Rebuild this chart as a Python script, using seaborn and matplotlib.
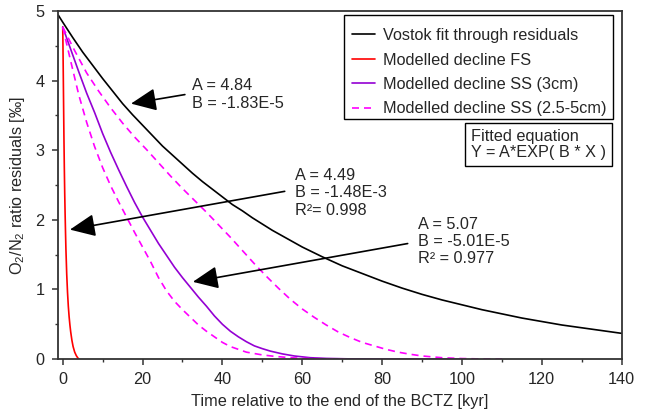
"""
O2/N2 ratio residuals: Vostok fit vs modelled declines
"""

import matplotlib
matplotlib.use("Agg")
import matplotlib.pyplot as plt
from matplotlib.patches import Rectangle
from matplotlib.ticker import MultipleLocator
import seaborn as sns

# ---- data ----
vostok_x = [-1.1, 0, 2.5, 5, 7.5, 10, 12.5, 15, 17.5, 20, 22.5, 25, 27.5, 30, 32.5, 35, 37.5,
            40, 42.5, 45, 47.5, 50, 52.5, 55, 57.5, 60, 65, 70, 75, 80, 85, 90, 95, 100, 105,
            110, 115, 120, 125, 130, 135, 140]
vostok_y = [4.94, 4.84, 4.62, 4.41, 4.22, 4.03, 3.85, 3.67, 3.51, 3.36, 3.21, 3.06, 2.93, 2.80,
            2.67, 2.55, 2.44, 2.33, 2.22, 2.13, 2.03, 1.94, 1.85, 1.77, 1.69, 1.61, 1.47, 1.34,
            1.23, 1.12, 1.02, 0.93, 0.85, 0.78, 0.71, 0.65, 0.59, 0.54, 0.49, 0.45, 0.41, 0.37]

fs_x = [0, 0.05, 0.1, 0.2, 0.3, 0.4, 0.5, 0.6, 0.7, 0.8, 1.0, 1.2, 1.4, 1.6, 1.8, 2.0, 2.3,
        2.6, 3.0, 3.4, 3.8, 4.1]
fs_y = [4.77, 4.55, 4.3, 3.75, 3.2, 2.75, 2.38, 2.08, 1.82, 1.58, 1.22, 0.96, 0.76, 0.61, 0.49,
        0.39, 0.27, 0.18, 0.10, 0.05, 0.015, 0.0]

ss3_x = [0, 2, 4, 6, 8, 10, 12, 14, 16, 18, 20, 22, 24, 26, 28, 30, 32, 34, 36, 38, 40, 42,
         44, 46, 48, 50, 52, 55, 58, 62, 66, 72, 80, 100]
ss3_y = [4.77, 4.45, 4.13, 3.82, 3.54, 3.24, 2.97, 2.72, 2.48, 2.25, 2.04, 1.85, 1.66, 1.49,
         1.32, 1.17, 1.03, 0.89, 0.76, 0.62, 0.50, 0.40, 0.32, 0.25, 0.19, 0.15, 0.115, 0.075,
         0.045, 0.02, 0.01, 0.003, 0.0, 0.0]

ss_lo_x = [0, 2, 4, 6, 8, 10, 12, 14, 16, 18, 20, 22, 24, 26, 28, 30, 32, 34, 36, 38, 40, 42,
           44, 46, 48, 50, 53, 56, 60, 66, 72]
ss_lo_y = [4.77, 4.28, 3.80, 3.40, 3.05, 2.75, 2.49, 2.26, 2.04, 1.82, 1.61, 1.40, 1.17, 0.98,
           0.83, 0.71, 0.60, 0.49, 0.40, 0.32, 0.24, 0.18, 0.14, 0.10, 0.08, 0.06, 0.04, 0.025,
           0.01, 0.003, 0.0]

ss_hi_x = [0, 3, 6, 9, 12, 15, 18, 21, 24, 27, 30, 33, 36, 39, 42, 45, 48, 51, 54, 57, 60, 63,
           66, 69, 72, 75, 78, 81, 84, 87, 90, 95, 100, 105, 110]
ss_hi_y = [4.77, 4.43, 4.11, 3.85, 3.61, 3.39, 3.19, 3.01, 2.82, 2.63, 2.45, 2.28, 2.11, 1.93,
           1.75, 1.56, 1.37, 1.19, 1.02, 0.86, 0.72, 0.60, 0.49, 0.39, 0.31, 0.24, 0.19, 0.14,
           0.10, 0.07, 0.045, 0.02, 0.008, 0.002, 0.0]

labels = ["Vostok fit through residuals", "Modelled decline FS",
          "Modelled decline SS (3cm)", "Modelled decline SS (2.5-5cm)"]
fit_texts = ["A = 4.84\nB = -1.83E-5",
             "A = 4.49\nB = -1.48E-3\nR\u00b2= 0.998",
             "A = 5.07\nB = -5.01E-5\nR\u00b2 = 0.977"]

sns.set_style("ticks")
plt.rcParams["font.family"] = ["Liberation Sans", "DejaVu Sans"]
plt.rcParams["mathtext.fontset"] = "custom"
plt.rcParams["mathtext.rm"] = "Liberation Sans"
plt.rcParams["mathtext.it"] = "Liberation Sans:italic"
FS = 11.7

fig = plt.figure(figsize=(6.46, 4.09), dpi=100)
ax = fig.add_axes([0.0903, 0.122, 0.872, 0.851])

purple = "#9400D3"
magenta = "#FF00FF"
dash = (0, (4.2, 3.0))

sns.lineplot(x=vostok_x, y=vostok_y, ax=ax, color="black", lw=1.2, sort=False, estimator=None)
sns.lineplot(x=fs_x, y=fs_y, ax=ax, color="red", lw=1.2, sort=False, estimator=None)
sns.lineplot(x=ss3_x, y=ss3_y, ax=ax, color=purple, lw=1.2, sort=False, estimator=None)
sns.lineplot(x=ss_lo_x, y=ss_lo_y, ax=ax, color=magenta, lw=1.2, ls=dash, sort=False, estimator=None)
sns.lineplot(x=ss_hi_x, y=ss_hi_y, ax=ax, color=magenta, lw=1.2, ls=dash, sort=False, estimator=None)

# legend without its own frame; frame drawn separately to match the padding
lines = ax.get_lines()
ax.legend(handles=lines[:4], labels=labels, loc="upper left",
          bbox_to_anchor=(0.5208, 0.951), borderaxespad=0, borderpad=0, fontsize=FS,
          frameon=False, handlelength=1.45, handletextpad=0.48, labelspacing=0.58)
ax.add_patch(Rectangle((0.507, 0.6897), 0.477, 0.2988, transform=ax.transAxes,
                       fill=False, ec="black", lw=1.0, zorder=5))

ax.text(0.732, 0.661, "Fitted equation\nY = A*EXP( B * X )", transform=ax.transAxes,
        fontsize=FS, ha="left", va="top", linespacing=1.1,
        bbox=dict(boxstyle="square,pad=0.38", fc="white", ec="black", lw=1.0))

# annotations: text, arrow tail, arrow tip (data units)
ann_text_pos = [(32.3, 3.80), (58.1, 2.39), (89.1, 1.69)]
ann_tail = [(30.6, 3.80), (55.6, 2.41), (86.4, 1.66)]
ann_tip = [(17.1, 3.67), (1.8, 1.86), (32.6, 1.11)]
for txt, tp, tail, tip in zip(fit_texts, ann_text_pos, ann_tail, ann_tip):
    ax.text(tp[0], tp[1], txt, fontsize=FS, ha="left", va="center", linespacing=1.2)
    ax.annotate("", xy=tip, xytext=tail,
                arrowprops=dict(arrowstyle="-|>,head_length=0.65,head_width=0.29",
                                mutation_scale=24, color="black", lw=1.2, shrinkA=0, shrinkB=0))

ax.set_xlim(-1.1, 140)
ax.set_ylim(0, 5)
ax.xaxis.set_major_locator(MultipleLocator(20))
ax.xaxis.set_minor_locator(MultipleLocator(10))
ax.yaxis.set_major_locator(MultipleLocator(1))
ax.yaxis.set_minor_locator(MultipleLocator(0.5))
ax.tick_params(axis="both", which="major", direction="out", length=4, width=1.1,
               labelsize=FS, color="#333333")
ax.tick_params(axis="both", which="minor", direction="out", length=2.5, width=1.0,
               color="#333333")
ax.tick_params(axis="x", pad=5)
ax.tick_params(axis="y", pad=6)
for s in ax.spines.values():
    s.set_visible(True)
    s.set_linewidth(1.3)
    s.set_color("#333333")

ax.set_xlabel("Time relative to the end of the BCTZ [kyr]", fontsize=FS, labelpad=5)
ax.set_ylabel("O$_2$/N$_2$ ratio residuals [\u2030]", fontsize=FS, labelpad=6)

fig.savefig("out.png", dpi=100)
